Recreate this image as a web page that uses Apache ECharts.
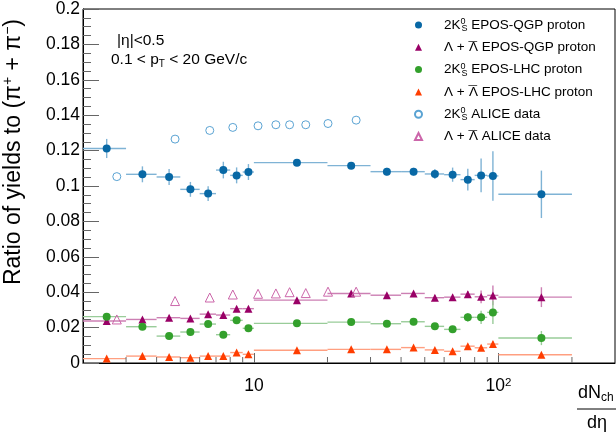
<!DOCTYPE html>
<html>
<head>
<meta charset="utf-8">
<script src="https://cdn.jsdelivr.net/npm/echarts@6/dist/echarts.min.js"></script>
<style>html,body{margin:0;padding:0;background:#fff}#c{width:616px;height:436px}</style>
</head>
<body>
<div id="c"></div>
<script>
// ---- data ----
const binCenters = [2.5, 3.5, 4.5, 5.5, 6.5, 7.5, 8.5, 9.5, 15, 25, 35, 45, 55, 65, 75, 85, 95, 150];
const binLow     = [2, 3, 4, 5, 6, 7, 8, 9, 10, 20, 30, 40, 50, 60, 70, 80, 90, 100];
const binHigh    = [3, 4, 5, 6, 7, 8, 9, 10, 20, 30, 40, 50, 60, 70, 80, 90, 100, 200];

const k0sQGP    = [0.1212, 0.1066, 0.1051, 0.0981, 0.0957, 0.1090, 0.1060, 0.1079, 0.1132, 0.1115, 0.1081, 0.1081, 0.1068, 0.1064, 0.1036, 0.1060, 0.1057, 0.0953];
const k0sQGPErr = [0.0054, 0.0045, 0.0045, 0.0042, 0.0042, 0.0047, 0.0045, 0.0045, 0.0012, 0.0015, 0.0022, 0.0022, 0.0028, 0.0040, 0.0061, 0.0096, 0.0140, 0.0134];

const lamQGP    = [0.0237, 0.0246, 0.0256, 0.0252, 0.0276, 0.0271, 0.0307, 0.0307, 0.0355, 0.0393, 0.0383, 0.0393, 0.0369, 0.0372, 0.0389, 0.0374, 0.0382, 0.0372];
const lamQGPErr = [0.0012, 0.0012, 0.0012, 0.0012, 0.0012, 0.0012, 0.0014, 0.0014, 0.0008, 0.0008, 0.0010, 0.0010, 0.0015, 0.0015, 0.0018, 0.0036, 0.0056, 0.0056];

const k0sLHC    = [0.0262, 0.0205, 0.0152, 0.0175, 0.0220, 0.0160, 0.0241, 0.0196, 0.0224, 0.0231, 0.0222, 0.0233, 0.0207, 0.0190, 0.0258, 0.0258, 0.0286, 0.0141];
const k0sLHCErr = [0.0015, 0.0015, 0.0012, 0.0012, 0.0015, 0.0012, 0.0015, 0.0015, 0.0008, 0.0008, 0.0010, 0.0010, 0.0015, 0.0018, 0.0025, 0.0037, 0.0066, 0.0040];

const lamLHC    = [0.0025, 0.0039, 0.0034, 0.0030, 0.0039, 0.0039, 0.0059, 0.0049, 0.0072, 0.0077, 0.0077, 0.0087, 0.0074, 0.0066, 0.0095, 0.0086, 0.0107, 0.0047];
const lamLHCErr = [0.0008, 0.0008, 0.0008, 0.0008, 0.0008, 0.0008, 0.0010, 0.0010, 0.0005, 0.0005, 0.0006, 0.0006, 0.0008, 0.0010, 0.0012, 0.0012, 0.0016, 0.0008];

const aliceX   = [2.75, 4.76, 6.60, 8.20, 10.4, 12.3, 14.0, 16.3, 20.1, 26.2];
const aliceK0s = [0.1053, 0.1265, 0.1314, 0.1331, 0.1340, 0.1346, 0.1346, 0.1346, 0.1353, 0.1372];
const aliceLam = [0.0246, 0.0350, 0.0370, 0.0387, 0.0391, 0.0393, 0.0400, 0.0395, 0.0403, 0.0403];

const xMajorLabels = [10, 100];
const xMinorTicks = [3, 4, 5, 6, 7, 8, 9, 20, 30, 40, 50, 60, 70, 80, 90, 200];

const legendLabels = {
  k0sQGP: '2K{sup|0}{sub|S} EPOS-QGP proton',
  lamQGP: 'Λ + {bar|¯}Λ EPOS-QGP proton',
  k0sLHC: '2K{sup|0}{sub|S} EPOS-LHC proton',
  lamLHC: 'Λ + {bar|¯}Λ EPOS-LHC proton',
  aliceK0s: '2K{sup|0}{sub|S} ALICE data',
  aliceLam: 'Λ + {bar|¯}Λ ALICE data'
};

// ---- chart ----
const FF = '"Liberation Sans", Arial, Helvetica, sans-serif';
const chart = echarts.init(document.getElementById('c'), null, {renderer: 'canvas'});

function errSeries(ys, errs, color) {
  return {
    type: 'custom', silent: true, z: 1,
    data: binCenters.map((x, i) => [x, ys[i], binLow[i], binHigh[i], errs[i]]),
    encode: {x: 0, y: 1},
    renderItem: (params, api) => {
      const x = api.value(0), y = api.value(1), lo = api.value(2), hi = api.value(3), e = api.value(4);
      const a = api.coord([lo, y]), b = api.coord([hi, y]);
      const c = api.coord([x, y - e]), d = api.coord([x, y + e]);
      return {type: 'group', children: [
        {type: 'line', shape: {x1: a[0], y1: a[1], x2: b[0], y2: b[1]}, style: {stroke: color, lineWidth: 1.4}},
        {type: 'line', shape: {x1: c[0], y1: c[1], x2: d[0], y2: d[1]}, style: {stroke: color, lineWidth: 1.4}}
      ]};
    }
  };
}

function pts(xs, ys) { return xs.map((x, i) => [x, ys[i]]); }

const option = {
  animation: false,
  backgroundColor: '#fff',
  grid: {left: 83, right: 1, top: 8, bottom: 73, show: true, borderColor: '#000', borderWidth: 1, backgroundColor: 'transparent'},
  xAxis: {
    type: 'log', logBase: 10, min: 2, max: 300,
    axisLine: {show: true, lineStyle: {color: '#000', width: 1}},
    axisTick: {show: true, inside: true, length: 10, lineStyle: {color: '#666'}},
    axisLabel: {
      fontFamily: FF, fontSize: 17.5, color: '#000', margin: 14,
      showMinLabel: false, showMaxLabel: false,
      formatter: v => {
        if (Math.abs(v - xMajorLabels[0]) < 1e-6) return '10';
        if (Math.abs(v - xMajorLabels[1]) < 1e-6) return '10{sup|2}';
        return '';
      },
      rich: {sup: {fontFamily: FF, fontSize: 11.5, verticalAlign: 'top', lineHeight: 10, color: '#000'}}
    },
    splitLine: {show: false}
  },
  yAxis: {
    type: 'value', min: 0, max: 0.2, interval: 0.02,
    axisLine: {show: true, lineStyle: {color: '#000', width: 1}},
    axisTick: {show: true, inside: true, length: 16, lineStyle: {color: '#666'}},
    minorTick: {show: true, splitNumber: 4, length: 8, lineStyle: {color: '#666'}},
    axisLabel: {fontFamily: FF, fontSize: 17.5, color: '#000', margin: 3,
      formatter: v => (Math.abs(v) < 1e-9 ? '0' : String(+v.toFixed(2)))},
    splitLine: {show: false}
  },
  legend: {
    orient: 'vertical', left: 409, top: 12, itemWidth: 7, itemHeight: 7, itemGap: 6.3,
    symbolKeepAspect: true,
    data: ['k0sQGP', 'lamQGP', 'k0sLHC', 'lamLHC', 'aliceK0s', 'aliceLam'],
    formatter: n => legendLabels[n],
    textStyle: {
      fontFamily: FF, fontSize: 13.5, color: '#000', lineHeight: 16, padding: [0, 0, 0, 17],
      rich: {
        sup: {fontFamily: FF, fontSize: 9, lineHeight: 9, verticalAlign: 'top', width: 1, color: '#000'},
        sub: {fontFamily: FF, fontSize: 9, lineHeight: 9, verticalAlign: 'bottom', color: '#000'},
        bar: {fontFamily: FF, fontSize: 15.5, lineHeight: 16, width: 0.5, color: '#000', padding: [0, 0, 0, 0]}
      }
    }
  },
  graphic: [
    {type: 'text', x: 14, y: 19, rotation: Math.PI / 2,
      style: {text: '{n|Ratio of yields to (π}{s|+}{n| + π}{s|−}{n|)}', align: 'right', verticalAlign: 'middle',
        rich: {n: {fontFamily: FF, fontSize: 23, lineHeight: 26, fill: '#000'},
               s: {fontFamily: FF, fontSize: 14, lineHeight: 14, verticalAlign: 'top', fill: '#000'}}}},
    {type: 'text', x: 117, y: 41,
      style: {text: '|η|<0.5', fontFamily: FF, fontSize: 15.5, fill: '#000', verticalAlign: 'middle'}},
    {type: 'text', x: 111, y: 59.5,
      style: {text: '{n|0.1 < p}{s|T}{n| < 20 GeV/c}', verticalAlign: 'middle',
        rich: {n: {fontFamily: FF, fontSize: 15.5, lineHeight: 20, fill: '#000'},
               s: {fontFamily: FF, fontSize: 10, lineHeight: 10, verticalAlign: 'bottom', fill: '#000'}}}},
    {type: 'text', x: 578, y: 393,
      style: {text: '{n|dN}{s|ch}', verticalAlign: 'middle',
        rich: {n: {fontFamily: FF, fontSize: 18, lineHeight: 22, fill: '#000'},
               s: {fontFamily: FF, fontSize: 12, lineHeight: 12, verticalAlign: 'bottom', fill: '#000'}}}},
    {type: 'line', shape: {x1: 577, y1: 409, x2: 616, y2: 409}, style: {stroke: '#000', lineWidth: 1}},
    {type: 'text', x: 587, y: 423,
      style: {text: 'dη', fontFamily: FF, fontSize: 18, fill: '#000', verticalAlign: 'middle'}}
  ],
  series: [
    {type: 'custom', silent: true, z: 2,
      data: xMinorTicks.map(v => [v, 0]), encode: {x: 0, y: 1},
      renderItem: (params, api) => {
        const p = api.coord([api.value(0), 0]);
        return {type: 'line', shape: {x1: p[0], y1: p[1], x2: p[0], y2: p[1] - 6}, style: {stroke: '#666', lineWidth: 1}};
      }},
    errSeries(k0sQGP, k0sQGPErr, '#7fb3d5'),
    errSeries(lamQGP, lamQGPErr, '#cc7fb3'),
    errSeries(k0sLHC, k0sLHCErr, '#99cc99'),
    errSeries(lamLHC, lamLHCErr, '#ff9f80'),
    {type: 'scatter', name: 'k0sQGP', data: pts(binCenters, k0sQGP), symbol: 'circle', symbolSize: 8, z: 5,
      itemStyle: {color: '#0868a5', opacity: 1}},
    {type: 'scatter', name: 'lamQGP', data: pts(binCenters, lamQGP), symbol: 'triangle', symbolSize: 8, z: 5,
      itemStyle: {color: '#990066', opacity: 1}},
    {type: 'scatter', name: 'k0sLHC', data: pts(binCenters, k0sLHC), symbol: 'circle', symbolSize: 8, z: 5,
      itemStyle: {color: '#33a02c', opacity: 1}},
    {type: 'scatter', name: 'lamLHC', data: pts(binCenters, lamLHC), symbol: 'triangle', symbolSize: 8, z: 5,
      itemStyle: {color: '#ff3d00', opacity: 1}},
    {type: 'scatter', name: 'aliceK0s', data: pts(aliceX, aliceK0s), symbol: 'circle', symbolSize: 8, z: 5,
      itemStyle: {color: 'rgba(255,255,255,0)', borderColor: '#5aa3d3', borderWidth: 1, opacity: 1}},
    {type: 'scatter', name: 'aliceLam', data: pts(aliceX, aliceLam), symbol: 'triangle', symbolSize: 9, z: 5,
      itemStyle: {color: 'rgba(255,255,255,0)', borderColor: '#cc66aa', borderWidth: 1, opacity: 1}}
  ]
};
chart.setOption(option);
</script>
</body>
</html>
